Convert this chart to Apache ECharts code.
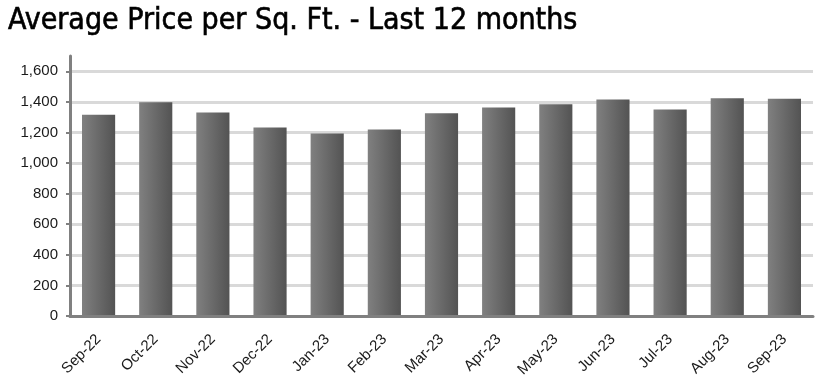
<!DOCTYPE html>
<html>
<head>
<meta charset="utf-8">
<script src="https://cdn.jsdelivr.net/npm/echarts@6/dist/echarts.min.js"></script>
<style>
html,body{margin:0;padding:0;background:#fff;}
#chart{width:828px;height:382px;}
</style>
</head>
<body>
<div id="chart"></div>
<script>
const titleText = 'Average Price per Sq. Ft. - Last 12 months';
const months = ['Sep-22','Oct-22','Nov-22','Dec-22','Jan-23','Feb-23','Mar-23','Apr-23','May-23','Jun-23','Jul-23','Aug-23','Sep-23'];
const pricePerSqFt = [1316,1397,1331,1233,1193,1220,1325,1364,1384,1416,1351,1423,1421];

const chart = echarts.init(document.getElementById('chart'));
chart.setOption({
  animation: false,
  backgroundColor: '#ffffff',
  title: {
    text: titleText,
    left: 3,
    top: 1,
    textStyle: {fontFamily: 'DejaVu Sans Condensed', fontSize: 30, fontWeight: 'normal', color: '#000',
      textBorderColor: '#000', textBorderWidth: 0.6}
  },
  grid: {left: 70, right: 15, top: 56, bottom: 66, containLabel: false},
  xAxis: {
    type: 'category',
    data: months,
    z: 10,
    axisLine: {lineStyle: {color: '#808080', width: 3}},
    axisTick: {show: false},
    axisLabel: {rotate: 45, margin: 21, fontFamily: 'Liberation Sans', fontSize: 15, color: '#1a1a1a', interval: 0}
  },
  yAxis: {
    type: 'value',
    min: 0,
    max: 1700,
    interval: 200,
    axisLine: {show: true, lineStyle: {color: '#808080', width: 3}},
    axisTick: {show: true, length: 4, lineStyle: {color: '#808080', width: 2}},
    axisLabel: {
      showMaxLabel: false,
      margin: 12,
      fontFamily: 'Liberation Sans', fontSize: 15, color: '#1a1a1a',
      formatter: v => v.toLocaleString('en-US')
    },
    splitLine: {show: true, showMaxLine: false, lineStyle: {color: '#d9d9d9', width: 3}}
  },
  series: [{
    type: 'bar',
    data: pricePerSqFt,
    barWidth: '58%',
    itemStyle: {
      color: new echarts.graphic.LinearGradient(0, 0, 1, 0, [
        {offset: 0, color: '#808080'},
        {offset: 1, color: '#535353'}
      ])
    }
  }]
});
</script>
</body>
</html>
